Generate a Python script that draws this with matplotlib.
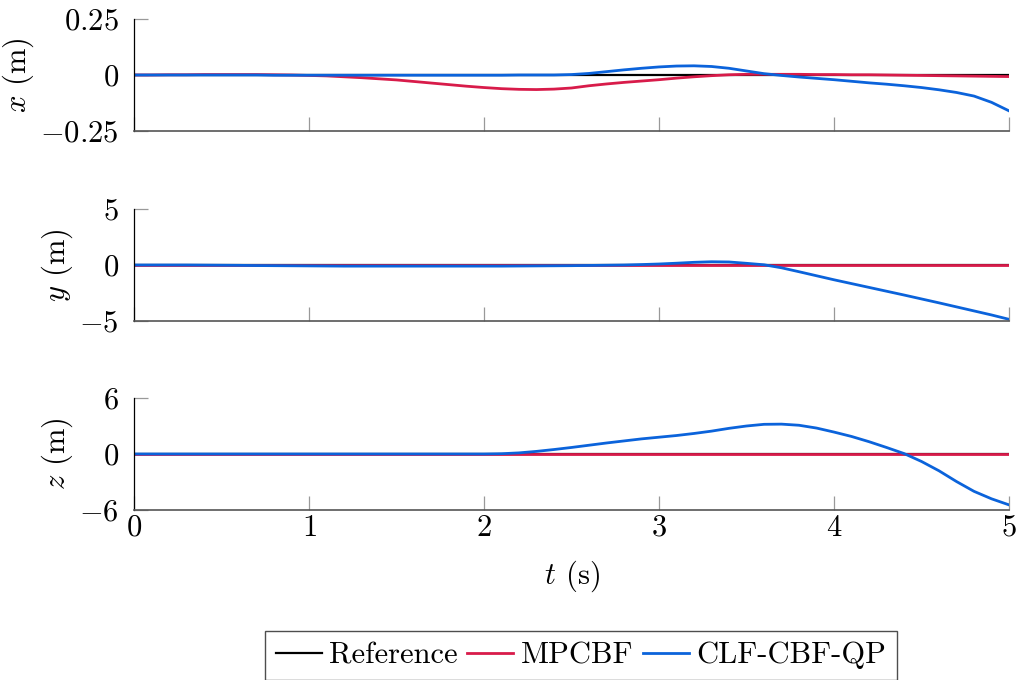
import matplotlib
matplotlib.use("Agg")
import matplotlib.pyplot as plt

plt.rcParams['font.family'] = ['cmr10']
plt.rcParams['mathtext.fontset'] = 'cm'
plt.rcParams['axes.unicode_minus'] = False

# time samples (s), every 0.1 s
t = [round(0.1 * i, 1) for i in range(51)]

# reference trajectory
ref = [0.0] * len(t)

# MPCBF
x_mpcbf = [0.0, 0.0, 0.001, 0.001, 0.002, 0.002, 0.002, 0.002, 0.001, 0.0,
           -0.002, -0.004, -0.008, -0.012, -0.017, -0.022, -0.029, -0.036, -0.043, -0.050,
           -0.056, -0.061, -0.064, -0.065, -0.063, -0.058, -0.048, -0.040, -0.033, -0.027,
           -0.021, -0.014, -0.008, -0.003, 0.001, 0.003, 0.003, 0.003, 0.003, 0.002,
           0.002, 0.001, 0.001, 0.0, -0.001, -0.002, -0.003, -0.004, -0.005, -0.006,
           -0.007]
y_mpcbf = [0.0] * len(t)
z_mpcbf = [0.0] * len(t)

# CLF-CBF-QP
x_clf = [0.0, 0.0, 0.0, 0.0, 0.0, 0.0, 0.0, 0.0, -0.001, -0.001,
         -0.001, -0.001, -0.001, -0.001, -0.001, -0.001, -0.001, -0.001, -0.001, -0.001,
         -0.001, -0.001, 0.0, 0.0, 0.0, 0.002, 0.007, 0.015, 0.023, 0.030,
         0.036, 0.040, 0.041, 0.038, 0.030, 0.018, 0.006, -0.002, -0.009, -0.015,
         -0.021, -0.028, -0.035, -0.041, -0.048, -0.056, -0.066, -0.078, -0.094, -0.122,
         -0.160]
y_clf = [0.0, 0.0, 0.0, 0.0, -0.01, -0.02, -0.03, -0.05, -0.06, -0.07,
         -0.08, -0.09, -0.1, -0.1, -0.1, -0.1, -0.1, -0.1, -0.1, -0.1,
         -0.1, -0.1, -0.09, -0.08, -0.07, -0.06, -0.04, -0.02, 0.0, 0.04,
         0.09, 0.16, 0.24, 0.29, 0.27, 0.15, 0.02, -0.25, -0.6, -0.96,
         -1.32, -1.66, -2.0, -2.34, -2.68, -3.03, -3.38, -3.74, -4.1, -4.46,
         -4.85]
z_clf = [0.0, 0.0, 0.0, 0.0, 0.0, 0.0, 0.0, 0.0, 0.0, 0.0,
         0.0, 0.0, 0.0, 0.0, 0.0, 0.0, 0.0, 0.0, 0.0, 0.0,
         0.0, 0.03, 0.12, 0.28, 0.48, 0.7, 0.94, 1.18, 1.4, 1.62,
         1.8, 1.98, 2.2, 2.45, 2.75, 3.0, 3.18, 3.2, 3.08, 2.78,
         2.35, 1.88, 1.32, 0.7, 0.05, -0.8, -1.8, -2.95, -4.0, -4.8,
         -5.45]

ylims = [(-0.25, 0.25), (-5, 5), (-6, 6)]
yticks = [[-0.25, 0, 0.25], [-5, 0, 5], [-6, 0, 6]]
yticklabels = [[r'$-0.25$', r'$0$', r'$0.25$'], [r'$-5$', r'$0$', r'$5$'], [r'$-6$', r'$0$', r'$6$']]
ylabels = [r'$x$ (m)', r'$y$ (m)', r'$z$ (m)']
xticks = [0, 1, 2, 3, 4, 5]

c_ref = 'black'
c_mpc = '#D81B4A'
c_clf = '#0B63DB'
fs = 22

fig = plt.figure(figsize=(10.19, 6.8), dpi=100)
left, width = 134 / 1019, 875 / 1019
tops = [19, 209, 398]
h = 112 / 680

series = [(x_mpcbf, x_clf), (y_mpcbf, y_clf), (z_mpcbf, z_clf)]
axes = []
for i in range(3):
    bottom = 1 - (tops[i] + 112) / 680
    ax = fig.add_axes([left, bottom, width, h])
    mpc, clf = series[i]
    l1, = ax.plot(t, ref, color=c_ref, lw=1.6, label='Reference')
    l2, = ax.plot(t, mpc, color=c_mpc, lw=2.0, label='MPCBF')
    l3, = ax.plot(t, clf, color=c_clf, lw=2.0, label='CLF-CBF-QP')
    ax.set_xlim(0, 5)
    ax.set_ylim(*ylims[i])
    ax.set_yticks(yticks[i])
    ax.set_yticklabels(yticklabels[i])
    ax.set_xticks(xticks)
    if i == 2:
        ax.set_xticklabels([r'$%d$' % v for v in xticks])
        ax.set_xlabel(r'$t$ (s)', fontsize=fs, labelpad=12)
    else:
        ax.set_xticklabels([])
    ax.set_ylabel(ylabels[i], fontsize=fs, labelpad=3)
    ax.spines['top'].set_visible(False)
    ax.spines['right'].set_visible(False)
    ax.spines['left'].set_color('black')
    ax.spines['bottom'].set_color('#555555')
    ax.spines['left'].set_linewidth(0.9)
    ax.spines['bottom'].set_linewidth(1.2)
    ax.tick_params(axis='y', direction='in', length=10, width=0.9, color='#999999',
                   labelsize=fs, pad=11)
    ax.tick_params(axis='x', direction='in', length=10, width=0.9, color='#999999',
                   labelsize=fs, pad=3)
    axes.append(ax)

leg = fig.legend(handles=[l1, l2, l3], loc='upper center',
                 bbox_to_anchor=(581 / 1019, 1 - 631 / 680), ncol=3,
                 fontsize=fs, frameon=True, fancybox=False, edgecolor='#222222',
                 handlelength=1.5, handletextpad=0.26, columnspacing=0.3,
                 borderpad=0.35, borderaxespad=0)
leg.get_frame().set_linewidth(1.0)

fig.savefig('out.png', dpi=100)
